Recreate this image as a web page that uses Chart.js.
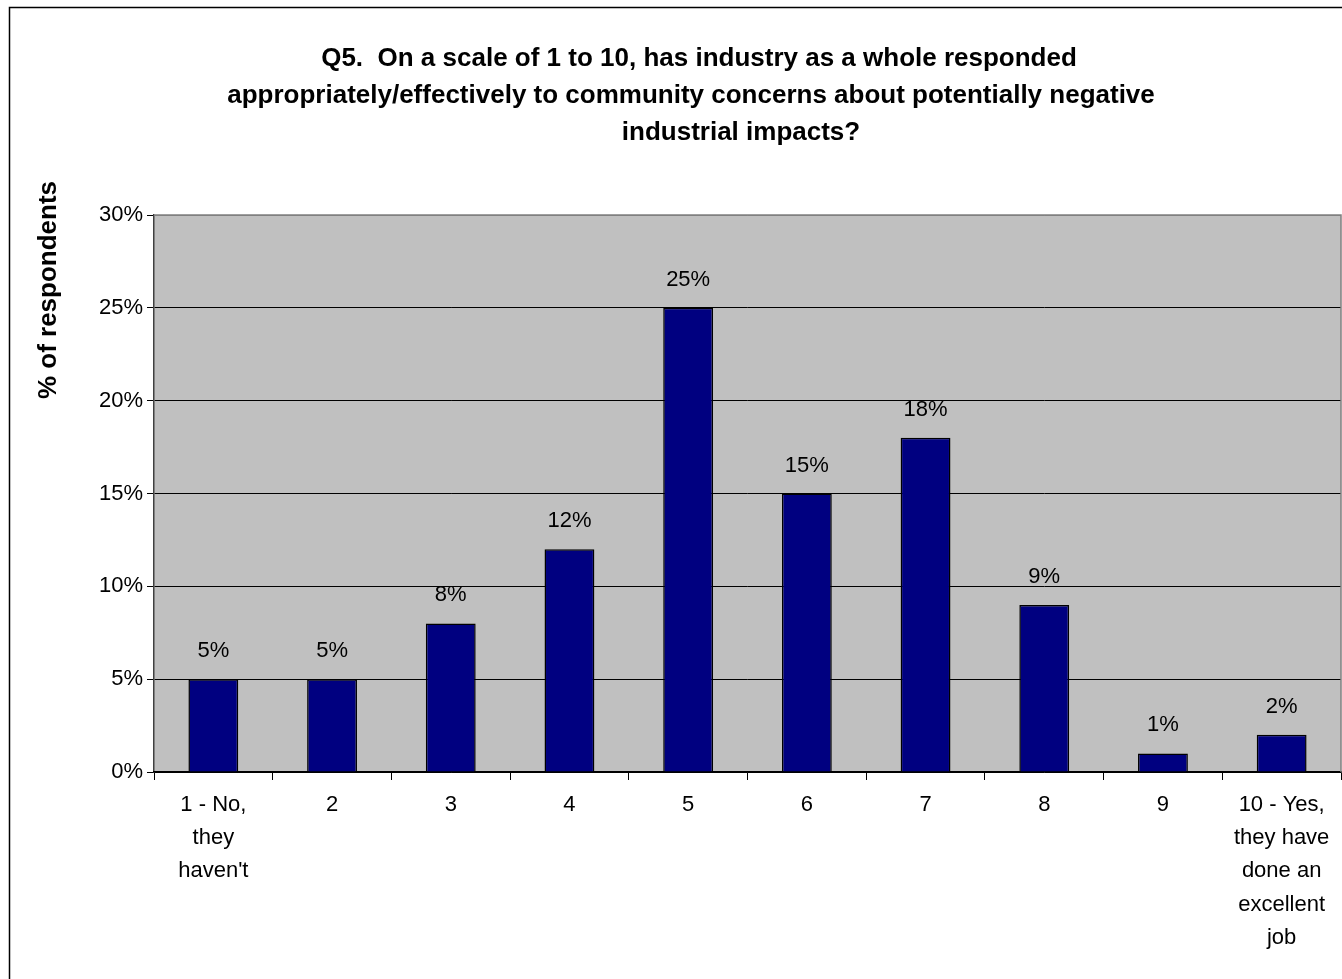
<!DOCTYPE html>
<html>
<head>
<meta charset="utf-8">
<script src="https://cdn.jsdelivr.net/npm/chart.js@4.4.0/dist/chart.umd.min.js"></script>
<style>
  html, body { margin: 0; padding: 0; background: #fff; }
  #wrap { width: 1342px; height: 979px; }
</style>
</head>
<body>
<div id="wrap"><canvas id="chart" width="1342" height="979"></canvas></div>
<script>
// data
const categories = [['1 - No,', 'they', "haven't"], '2', '3', '4', '5', '6', '7', '8', '9',
                    ['10 - Yes,', 'they have', 'done an', 'excellent', 'job']];
const percentValues = [5, 5, 8, 12, 25, 15, 18, 9, 1, 2];
const yTickValues = [0, 5, 10, 15, 20, 25, 30];
const titleLines = ['Q5.  On a scale of 1 to 10, has industry as a whole responded',
                    'appropriately/effectively to community concerns about potentially negative',
                    'industrial impacts?'];
const yTitle = '% of respondents';

const FONT = '"Liberation Sans", Arial, sans-serif';

const frame = {
    id: 'frame',
    beforeDraw(chart) {
        const c = chart.ctx, a = chart.chartArea;
        c.save();
        c.fillStyle = '#fff'; c.fillRect(0, 0, chart.width, chart.height);
        c.strokeStyle = '#000'; c.lineWidth = 1.5;
        c.strokeRect(9.5, 7.5, 1400, 1100);
        c.fillStyle = '#c0c0c0';
        c.fillRect(a.left, a.top, a.right - a.left, a.bottom - a.top);
        c.restore();
    },
    afterDatasetsDraw(chart) {
        const c = chart.ctx, a = chart.chartArea;
        c.save();
        // plot border top/right
        c.strokeStyle = '#808080'; c.lineWidth = 1.5;
        c.beginPath();
        c.moveTo(a.left, a.top); c.lineTo(a.right, a.top); c.lineTo(a.right, a.bottom);
        c.stroke();
        // value labels
        c.fillStyle = '#000'; c.font = '22px ' + FONT;
        c.textAlign = 'center'; c.textBaseline = 'alphabetic';
        chart.getDatasetMeta(0).data.forEach((bar, i) => {
            c.fillText(percentValues[i] + '%', bar.x, bar.y - 22);
        });
        c.restore();
    },
    afterDraw(chart) {
        const c = chart.ctx;
        c.save();
        c.fillStyle = '#000';
        c.font = 'bold 26px ' + FONT;
        c.textAlign = 'center'; c.textBaseline = 'alphabetic';
        const cx = [699, 691, 741];
        titleLines.forEach((t, i) => c.fillText(t, cx[i], 66 + i * 37));
        c.translate(56, 290); c.rotate(-Math.PI / 2);
        c.fillText(yTitle, 0, 0);
        c.restore();
    }
};

new Chart(document.getElementById('chart'), {
    type: 'bar',
    data: {
        labels: categories,
        datasets: [{
            data: percentValues,
            backgroundColor: '#000080',
            borderColor: '#000',
            borderWidth: 1.5,
            barPercentage: 0.42,
            categoryPercentage: 1
        }]
    },
    options: {
        responsive: false,
        animation: false,
        devicePixelRatio: 1,
        layout: { padding: { top: 215, left: 0, right: 1, bottom: 0 } },
        plugins: { legend: { display: false }, tooltip: { enabled: false }, title: { display: false } },
        scales: {
            y: {
                min: 0, max: 30,
                afterFit(s) { s.width = 154; },
                afterBuildTicks(s) { s.ticks = yTickValues.map(v => ({ value: v })); },
                ticks: { callback: v => v + '%', color: '#000', font: { family: FONT, size: 22 }, padding: 4 },
                grid: { color: ctx => ctx.tick && ctx.tick.value === 30 ? '#808080' : '#000', lineWidth: 1, tickLength: 7, tickColor: '#000' },
                border: { display: true, color: '#404040', width: 1.5 }
            },
            x: {
                afterFit(s) { s.height = 207; },
                ticks: { color: '#000', font: { family: FONT, size: 22, lineHeight: 1.515 }, padding: 8, maxRotation: 0, autoSkip: false },
                grid: { drawOnChartArea: false, tickLength: 8, color: '#000' },
                border: { display: true, color: '#000', width: 1.5 }
            }
        }
    },
    plugins: [frame]
});
</script>
</body>
</html>
